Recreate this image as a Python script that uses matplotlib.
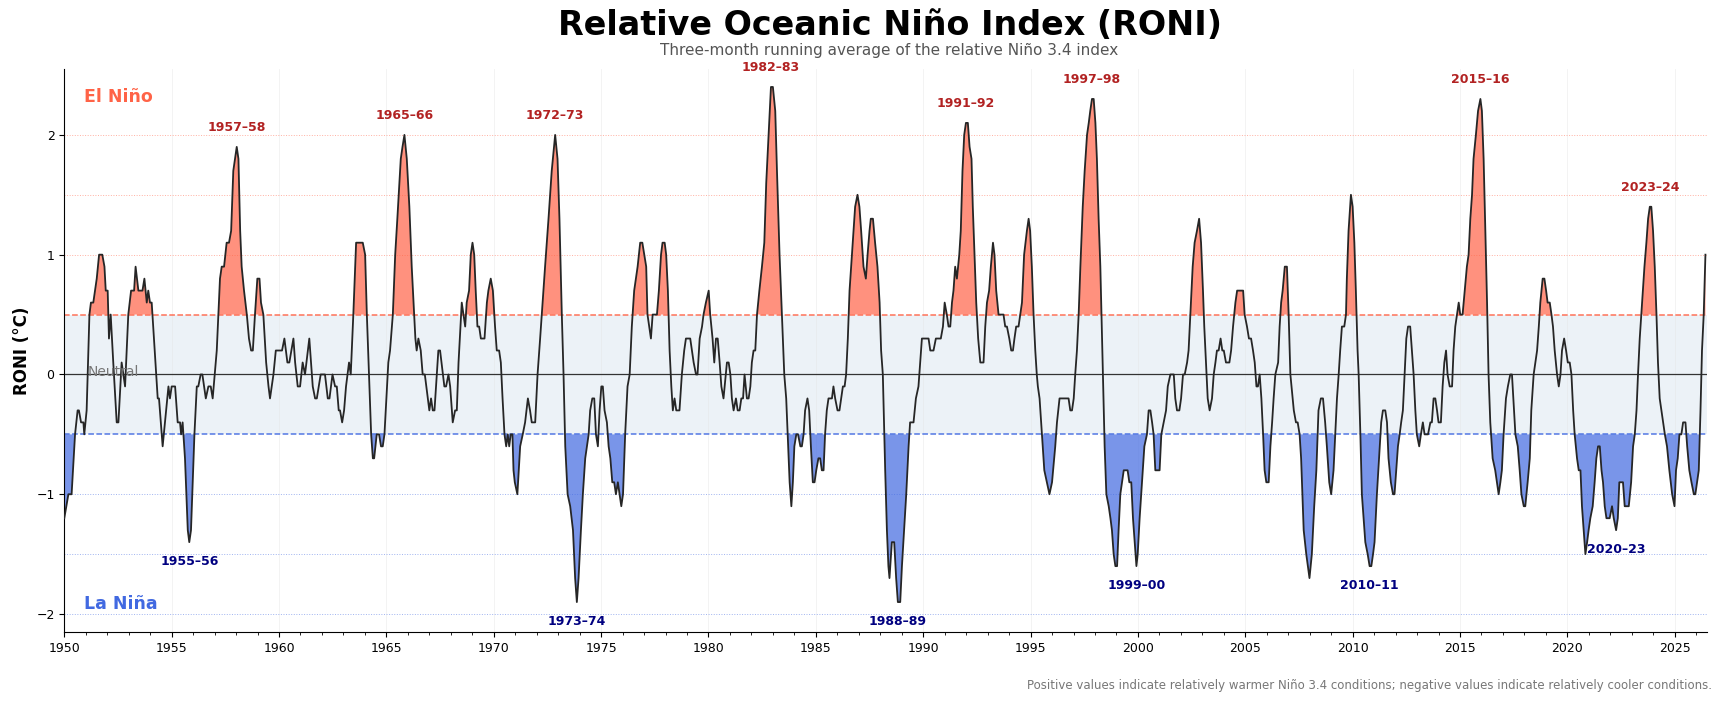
import numpy as np
import matplotlib.pyplot as plt
from matplotlib.ticker import MultipleLocator
import matplotlib.transforms as mtransforms

# RONI (three-month running mean)
years = [
    1950.00, 1950.19, 1950.34, 1950.50, 1950.62, 1950.68, 1950.78, 1950.89, 1950.93, 1951.04,
    1951.17, 1951.24, 1951.35, 1951.51, 1951.62, 1951.77, 1951.87, 1951.93, 1952.02, 1952.08,
    1952.16, 1952.28, 1952.44, 1952.52, 1952.67, 1952.83, 1952.98, 1953.11, 1953.25, 1953.32,
    1953.45, 1953.64, 1953.73, 1953.84, 1953.91, 1953.99, 1954.07, 1954.35, 1954.41, 1954.58,
    1954.85, 1954.92, 1955.00, 1955.16, 1955.28, 1955.39, 1955.44, 1955.51, 1955.62, 1955.75,
    1955.82, 1955.90, 1956.06, 1956.17, 1956.24, 1956.35, 1956.43, 1956.59, 1956.71, 1956.82,
    1956.91, 1957.10, 1957.25, 1957.33, 1957.44, 1957.56, 1957.67, 1957.77, 1957.87, 1957.95,
    1958.03, 1958.11, 1958.19, 1958.26, 1958.37, 1958.50, 1958.60, 1958.70, 1958.78, 1958.88,
    1958.99, 1959.09, 1959.16, 1959.27, 1959.40, 1959.51, 1959.58, 1959.74, 1959.85, 1960.14,
    1960.25, 1960.39, 1960.48, 1960.67, 1960.75, 1960.87, 1960.98, 1961.10, 1961.21, 1961.41,
    1961.57, 1961.68, 1961.76, 1961.94, 1962.14, 1962.27, 1962.35, 1962.49, 1962.61, 1962.69,
    1962.78, 1962.84, 1962.94, 1963.03, 1963.12, 1963.26, 1963.34, 1963.46, 1963.59, 1963.90,
    1964.01, 1964.09, 1964.19, 1964.29, 1964.37, 1964.43, 1964.55, 1964.66, 1964.75, 1964.83,
    1964.91, 1965.09, 1965.17, 1965.30, 1965.41, 1965.51, 1965.67, 1965.75, 1965.84, 1965.95,
    1966.07, 1966.18, 1966.29, 1966.35, 1966.41, 1966.49, 1966.60, 1966.69, 1966.79, 1966.93,
    1967.00, 1967.08, 1967.16, 1967.24, 1967.35, 1967.42, 1967.50, 1967.63, 1967.70, 1967.78,
    1967.89, 1967.97, 1968.09, 1968.20, 1968.28, 1968.36, 1968.51, 1968.59, 1968.67, 1968.74,
    1968.85, 1968.93, 1969.01, 1969.09, 1969.16, 1969.24, 1969.32, 1969.40, 1969.57, 1969.68,
    1969.75, 1969.86, 1969.96, 1970.06, 1970.14, 1970.25, 1970.33, 1970.41, 1970.50, 1970.58,
    1970.65, 1970.72, 1970.79, 1970.87, 1970.92, 1970.98, 1971.10, 1971.23, 1971.35, 1971.46,
    1971.59, 1971.69, 1971.77, 1971.93, 1972.04, 1972.16, 1972.39, 1972.55, 1972.70, 1972.86,
    1972.97, 1973.06, 1973.17, 1973.25, 1973.33, 1973.44, 1973.56, 1973.69, 1973.79, 1973.87,
    1973.95, 1974.06, 1974.15, 1974.26, 1974.34, 1974.42, 1974.49, 1974.59, 1974.68, 1974.76,
    1974.85, 1974.93, 1975.01, 1975.08, 1975.16, 1975.27, 1975.35, 1975.43, 1975.52, 1975.61,
    1975.69, 1975.78, 1975.86, 1975.94, 1976.02, 1976.12, 1976.23, 1976.33, 1976.43, 1976.54,
    1976.70, 1976.82, 1976.92, 1977.01, 1977.10, 1977.16, 1977.24, 1977.32, 1977.40, 1977.60,
    1977.69, 1977.79, 1977.86, 1977.96, 1978.03, 1978.11, 1978.19, 1978.27, 1978.34, 1978.42,
    1978.50, 1978.65, 1978.76, 1978.87, 1978.95, 1979.15, 1979.31, 1979.42, 1979.49, 1979.59,
    1979.70, 1979.77, 1979.88, 1980.01, 1980.08, 1980.19, 1980.27, 1980.35, 1980.43, 1980.52,
    1980.60, 1980.70, 1980.81, 1980.86, 1980.94, 1981.02, 1981.09, 1981.17, 1981.28, 1981.36,
    1981.45, 1981.53, 1981.61, 1981.68, 1981.79, 1981.87, 1981.95, 1982.02, 1982.10, 1982.18,
    1982.26, 1982.37, 1982.49, 1982.60, 1982.69, 1982.80, 1982.91, 1983.00, 1983.11, 1983.19,
    1983.31, 1983.42, 1983.53, 1983.62, 1983.69, 1983.78, 1983.86, 1983.93, 1984.00, 1984.09,
    1984.17, 1984.28, 1984.35, 1984.43, 1984.50, 1984.61, 1984.69, 1984.77, 1984.86, 1984.94,
    1985.02, 1985.12, 1985.20, 1985.28, 1985.36, 1985.43, 1985.51, 1985.59, 1985.75, 1985.82,
    1985.90, 1986.01, 1986.10, 1986.18, 1986.26, 1986.34, 1986.41, 1986.49, 1986.57, 1986.68,
    1986.75, 1986.83, 1986.94, 1987.03, 1987.11, 1987.22, 1987.33, 1987.41, 1987.50, 1987.56,
    1987.66, 1987.76, 1987.87, 1987.97, 1988.04, 1988.12, 1988.23, 1988.31, 1988.38, 1988.43,
    1988.54, 1988.65, 1988.74, 1988.82, 1988.93, 1989.01, 1989.11, 1989.21, 1989.32, 1989.39,
    1989.55, 1989.66, 1989.78, 1989.86, 1989.94, 1990.25, 1990.33, 1990.48, 1990.59, 1990.82,
    1990.92, 1991.00, 1991.10, 1991.18, 1991.26, 1991.34, 1991.41, 1991.49, 1991.57, 1991.68,
    1991.75, 1991.83, 1991.91, 1991.99, 1992.08, 1992.16, 1992.25, 1992.31, 1992.39, 1992.47,
    1992.56, 1992.66, 1992.81, 1992.89, 1992.97, 1993.07, 1993.15, 1993.25, 1993.32, 1993.40,
    1993.51, 1993.74, 1993.82, 1993.90, 1994.01, 1994.10, 1994.18, 1994.25, 1994.33, 1994.44,
    1994.52, 1994.60, 1994.70, 1994.83, 1994.91, 1994.98, 1995.06, 1995.14, 1995.22, 1995.29,
    1995.34, 1995.42, 1995.53, 1995.64, 1995.76, 1995.88, 1996.00, 1996.15, 1996.23, 1996.35,
    1996.54, 1996.77, 1996.85, 1996.93, 1997.01, 1997.08, 1997.16, 1997.24, 1997.32, 1997.43,
    1997.52, 1997.63, 1997.71, 1997.78, 1997.86, 1997.94, 1998.02, 1998.09, 1998.17, 1998.25,
    1998.33, 1998.37, 1998.45, 1998.53, 1998.64, 1998.72, 1998.79, 1998.87, 1998.95, 1999.03,
    1999.10, 1999.18, 1999.26, 1999.34, 1999.52, 1999.60, 1999.69, 1999.77, 1999.85, 1999.93,
    1999.99, 2000.08, 2000.19, 2000.30, 2000.42, 2000.50, 2000.58, 2000.66, 2000.73, 2000.81,
    2001.01, 2001.09, 2001.20, 2001.31, 2001.39, 2001.51, 2001.67, 2001.74, 2001.82, 2001.93,
    2002.01, 2002.10, 2002.18, 2002.29, 2002.36, 2002.44, 2002.55, 2002.64, 2002.75, 2002.85,
    2002.94, 2003.03, 2003.09, 2003.17, 2003.25, 2003.34, 2003.45, 2003.53, 2003.61, 2003.68,
    2003.76, 2003.85, 2003.93, 2004.00, 2004.10, 2004.26, 2004.34, 2004.43, 2004.54, 2004.62,
    2004.90, 2004.97, 2005.08, 2005.17, 2005.27, 2005.36, 2005.44, 2005.52, 2005.59, 2005.67,
    2005.75, 2005.83, 2005.90, 2005.98, 2006.09, 2006.17, 2006.25, 2006.32, 2006.40, 2006.53,
    2006.60, 2006.67, 2006.74, 2006.84, 2006.94, 2007.02, 2007.10, 2007.26, 2007.36, 2007.44,
    2007.53, 2007.60, 2007.72, 2007.84, 2007.99, 2008.10, 2008.21, 2008.31, 2008.41, 2008.52,
    2008.62, 2008.72, 2008.80, 2008.91, 2009.00, 2009.11, 2009.19, 2009.27, 2009.35, 2009.42,
    2009.50, 2009.61, 2009.69, 2009.73, 2009.81, 2009.92, 2010.00, 2010.08, 2010.15, 2010.23,
    2010.28, 2010.36, 2010.43, 2010.51, 2010.59, 2010.70, 2010.79, 2010.87, 2010.95, 2011.02,
    2011.13, 2011.26, 2011.33, 2011.41, 2011.52, 2011.60, 2011.67, 2011.78, 2011.88, 2011.95,
    2012.03, 2012.11, 2012.19, 2012.26, 2012.34, 2012.42, 2012.50, 2012.58, 2012.68, 2012.76,
    2012.84, 2012.92, 2012.99, 2013.10, 2013.18, 2013.27, 2013.35, 2013.51, 2013.62, 2013.69,
    2013.77, 2013.85, 2013.93, 2014.00, 2014.11, 2014.19, 2014.27, 2014.35, 2014.42, 2014.52,
    2014.63, 2014.70, 2014.78, 2014.86, 2014.94, 2015.01, 2015.12, 2015.22, 2015.32, 2015.40,
    2015.48, 2015.56, 2015.63, 2015.74, 2015.84, 2015.95, 2016.02, 2016.10, 2016.18, 2016.26,
    2016.33, 2016.41, 2016.52, 2016.64, 2016.72, 2016.80, 2016.88, 2016.95, 2017.03, 2017.14,
    2017.23, 2017.34, 2017.42, 2017.58, 2017.69, 2017.78, 2017.86, 2017.97, 2018.04, 2018.15,
    2018.25, 2018.32, 2018.43, 2018.51, 2018.59, 2018.67, 2018.74, 2018.85, 2018.93, 2019.01,
    2019.08, 2019.18, 2019.26, 2019.33, 2019.41, 2019.52, 2019.60, 2019.68, 2019.75, 2019.85,
    2019.94, 2020.02, 2020.11, 2020.19, 2020.27, 2020.34, 2020.45, 2020.53, 2020.61, 2020.68,
    2020.76, 2020.84, 2020.92, 2020.99, 2021.07, 2021.18, 2021.27, 2021.35, 2021.43, 2021.51,
    2021.59, 2021.66, 2021.74, 2021.82, 2021.97, 2022.08, 2022.16, 2022.27, 2022.35, 2022.42,
    2022.59, 2022.67, 2022.86, 2022.97, 2023.06, 2023.14, 2023.22, 2023.29, 2023.37, 2023.48,
    2023.59, 2023.68, 2023.76, 2023.84, 2023.91, 2023.99, 2024.07, 2024.15, 2024.22, 2024.30,
    2024.38, 2024.46, 2024.54, 2024.64, 2024.75, 2024.88, 2024.99, 2025.06, 2025.14, 2025.22,
    2025.31, 2025.39, 2025.50, 2025.58, 2025.68, 2025.78, 2025.89, 2025.96, 2026.04, 2026.12,
    2026.20, 2026.27, 2026.35, 2026.43,
]

roni = [
    -1.2, -1.0, -1.0, -0.5, -0.3, -0.3, -0.4, -0.4, -0.5, -0.3,
    0.5, 0.6, 0.6, 0.8, 1.0, 1.0, 0.9, 0.7, 0.7, 0.3,
    0.5, 0.1, -0.4, -0.4, 0.1, -0.1, 0.5, 0.7, 0.7, 0.9,
    0.7, 0.7, 0.8, 0.6, 0.7, 0.6, 0.6, -0.2, -0.2, -0.6,
    -0.1, -0.2, -0.1, -0.1, -0.4, -0.4, -0.5, -0.4, -0.7, -1.3,
    -1.4, -1.3, -0.5, -0.1, -0.1, 0.0, 0.0, -0.2, -0.1, -0.1,
    -0.2, 0.2, 0.8, 0.9, 0.9, 1.1, 1.1, 1.2, 1.7, 1.8,
    1.9, 1.8, 1.2, 0.9, 0.7, 0.5, 0.3, 0.2, 0.2, 0.5,
    0.8, 0.8, 0.6, 0.5, 0.1, -0.1, -0.2, 0.0, 0.2, 0.2,
    0.3, 0.1, 0.1, 0.3, 0.1, -0.1, -0.1, 0.1, 0.0, 0.3,
    -0.1, -0.2, -0.2, 0.0, 0.0, -0.2, -0.2, 0.0, -0.1, -0.1,
    -0.3, -0.3, -0.4, -0.3, -0.1, 0.1, 0.0, 0.5, 1.1, 1.1,
    1.0, 0.5, 0.0, -0.5, -0.7, -0.7, -0.5, -0.5, -0.6, -0.6,
    -0.5, 0.1, 0.2, 0.5, 1.0, 1.3, 1.8, 1.9, 2.0, 1.8,
    1.4, 0.9, 0.5, 0.3, 0.2, 0.3, 0.2, 0.0, 0.0, -0.2,
    -0.3, -0.2, -0.3, -0.3, 0.0, 0.2, 0.2, 0.0, -0.1, -0.1,
    0.0, -0.1, -0.4, -0.3, -0.3, 0.1, 0.6, 0.5, 0.4, 0.6,
    0.7, 1.0, 1.1, 1.0, 0.7, 0.4, 0.4, 0.3, 0.3, 0.6,
    0.7, 0.8, 0.7, 0.4, 0.2, 0.2, 0.1, -0.2, -0.5, -0.6,
    -0.5, -0.6, -0.5, -0.5, -0.8, -0.9, -1.0, -0.6, -0.5, -0.4,
    -0.2, -0.3, -0.4, -0.4, 0.0, 0.3, 0.9, 1.3, 1.7, 2.0,
    1.8, 1.3, 0.5, 0.0, -0.6, -1.0, -1.1, -1.3, -1.7, -1.9,
    -1.7, -1.3, -1.0, -0.7, -0.6, -0.5, -0.3, -0.2, -0.2, -0.5,
    -0.6, -0.3, -0.1, -0.1, -0.3, -0.4, -0.6, -0.7, -0.9, -0.9,
    -1.0, -0.9, -1.0, -1.1, -1.0, -0.5, -0.1, 0.0, 0.4, 0.7,
    0.9, 1.1, 1.1, 1.0, 0.9, 0.5, 0.4, 0.3, 0.5, 0.5,
    0.7, 1.0, 1.1, 1.1, 1.0, 0.7, 0.2, -0.1, -0.3, -0.2,
    -0.3, -0.3, 0.0, 0.2, 0.3, 0.3, 0.1, 0.0, 0.0, 0.3,
    0.4, 0.5, 0.6, 0.7, 0.5, 0.3, 0.1, 0.3, 0.3, 0.1,
    -0.1, -0.2, 0.0, 0.1, 0.1, 0.0, -0.2, -0.3, -0.2, -0.3,
    -0.3, -0.2, -0.2, 0.0, -0.2, -0.2, -0.1, 0.1, 0.2, 0.2,
    0.5, 0.7, 0.9, 1.1, 1.6, 2.0, 2.4, 2.4, 2.2, 1.7,
    1.0, 0.5, 0.0, -0.2, -0.5, -0.9, -1.1, -0.9, -0.6, -0.5,
    -0.5, -0.6, -0.6, -0.5, -0.3, -0.2, -0.3, -0.6, -0.9, -0.9,
    -0.8, -0.7, -0.7, -0.8, -0.8, -0.5, -0.3, -0.2, -0.2, -0.1,
    -0.2, -0.3, -0.3, -0.2, -0.1, -0.1, 0.0, 0.3, 0.7, 1.0,
    1.2, 1.4, 1.5, 1.4, 1.2, 0.9, 0.8, 1.0, 1.2, 1.3,
    1.3, 1.1, 0.9, 0.6, 0.2, 0.0, -0.8, -1.3, -1.6, -1.7,
    -1.4, -1.4, -1.7, -1.9, -1.9, -1.6, -1.3, -1.0, -0.6, -0.4,
    -0.4, -0.2, -0.1, 0.1, 0.3, 0.3, 0.2, 0.2, 0.3, 0.3,
    0.4, 0.6, 0.5, 0.4, 0.4, 0.6, 0.7, 0.9, 0.8, 1.0,
    1.2, 1.7, 2.0, 2.1, 2.1, 1.9, 1.8, 1.4, 1.0, 0.6,
    0.3, 0.1, 0.1, 0.4, 0.6, 0.7, 0.9, 1.1, 1.0, 0.7,
    0.5, 0.5, 0.4, 0.4, 0.3, 0.2, 0.2, 0.3, 0.4, 0.4,
    0.5, 0.6, 1.0, 1.2, 1.3, 1.2, 0.9, 0.5, 0.2, 0.0,
    -0.1, -0.2, -0.5, -0.8, -0.9, -1.0, -0.9, -0.6, -0.4, -0.2,
    -0.2, -0.2, -0.3, -0.3, -0.2, 0.0, 0.2, 0.5, 0.9, 1.4,
    1.7, 2.0, 2.1, 2.2, 2.3, 2.3, 2.1, 1.8, 1.3, 0.9,
    0.3, 0.0, -0.6, -1.0, -1.1, -1.2, -1.3, -1.5, -1.6, -1.6,
    -1.3, -1.0, -0.9, -0.8, -0.8, -0.9, -0.9, -1.2, -1.4, -1.6,
    -1.5, -1.2, -0.9, -0.6, -0.5, -0.3, -0.3, -0.4, -0.5, -0.8,
    -0.8, -0.5, -0.4, -0.3, -0.1, 0.0, 0.0, -0.2, -0.3, -0.3,
    -0.2, 0.0, 0.0, 0.1, 0.2, 0.5, 0.9, 1.1, 1.2, 1.3,
    1.1, 0.7, 0.4, 0.1, -0.2, -0.3, -0.2, 0.0, 0.1, 0.2,
    0.2, 0.3, 0.2, 0.2, 0.1, 0.1, 0.2, 0.4, 0.6, 0.7,
    0.7, 0.5, 0.4, 0.3, 0.3, 0.2, 0.1, -0.1, -0.1, 0.0,
    -0.2, -0.5, -0.8, -0.9, -0.9, -0.6, -0.4, -0.2, 0.0, 0.1,
    0.4, 0.6, 0.7, 0.9, 0.9, 0.5, 0.0, -0.3, -0.4, -0.4,
    -0.5, -0.7, -1.3, -1.5, -1.7, -1.5, -1.1, -0.8, -0.3, -0.2,
    -0.2, -0.4, -0.6, -0.9, -1.0, -0.8, -0.5, -0.2, 0.0, 0.2,
    0.4, 0.4, 0.5, 0.8, 1.2, 1.5, 1.4, 1.1, 0.7, 0.2,
    0.0, -0.5, -1.0, -1.2, -1.4, -1.5, -1.6, -1.6, -1.5, -1.4,
    -1.0, -0.6, -0.4, -0.3, -0.3, -0.4, -0.7, -0.9, -1.0, -1.0,
    -0.8, -0.6, -0.5, -0.4, -0.3, 0.0, 0.3, 0.4, 0.4, 0.2,
    0.0, -0.3, -0.5, -0.6, -0.5, -0.4, -0.5, -0.5, -0.4, -0.4,
    -0.2, -0.2, -0.3, -0.4, -0.4, -0.1, 0.1, 0.2, 0.0, -0.1,
    -0.1, 0.2, 0.4, 0.5, 0.6, 0.5, 0.5, 0.7, 0.9, 1.0,
    1.3, 1.5, 1.8, 2.0, 2.2, 2.3, 2.2, 1.8, 1.2, 0.6,
    0.0, -0.4, -0.7, -0.8, -0.9, -1.0, -0.9, -0.8, -0.5, -0.2,
    -0.1, 0.0, 0.0, -0.5, -0.6, -0.8, -1.0, -1.1, -1.1, -0.9,
    -0.7, -0.3, 0.0, 0.1, 0.2, 0.4, 0.6, 0.8, 0.8, 0.7,
    0.6, 0.6, 0.5, 0.4, 0.2, 0.0, -0.1, 0.0, 0.2, 0.3,
    0.2, 0.1, 0.1, 0.0, -0.3, -0.5, -0.7, -0.8, -0.8, -1.1,
    -1.3, -1.5, -1.4, -1.3, -1.2, -1.1, -0.9, -0.7, -0.6, -0.6,
    -0.8, -0.9, -1.1, -1.2, -1.2, -1.1, -1.2, -1.3, -1.2, -0.9,
    -0.9, -1.1, -1.1, -0.9, -0.6, -0.5, -0.3, 0.0, 0.3, 0.6,
    0.9, 1.1, 1.3, 1.4, 1.4, 1.2, 0.9, 0.5, 0.1, -0.2,
    -0.3, -0.4, -0.5, -0.6, -0.8, -1.0, -1.1, -0.8, -0.7, -0.5,
    -0.5, -0.4, -0.4, -0.6, -0.8, -0.9, -1.0, -1.0, -0.9, -0.8,
    -0.3, 0.2, 0.5, 1.0,
]

# named episodes and the span in which each labelled peak / trough lies
el_nino_labels = ['1957–58', '1965–66', '1972–73', '1982–83', '1991–92', '1997–98', '2015–16', '2023–24']
el_nino_spans = [(1957, 1959), (1965, 1967), (1972, 1973.5), (1982, 1984),
                 (1991, 1993), (1997, 1999), (2015, 2017), (2023, 2025)]
la_nina_labels = ['1955–56', '1973–74', '1988–89', '1999–00', '2010–11', '2020–23']
la_nina_spans = [(1955, 1957), (1973.3, 1975), (1988, 1990), (1999.5, 2000.5),
                 (2010, 2012), (2021.5, 2023)]

t = np.array(years)
v = np.array(roni)
assert len(t) == len(v)

fig = plt.figure(figsize=(17.24, 7.02), dpi=100)
ax = fig.add_axes([0.0373, 0.0997, 0.9528, 0.802])

# neutral band and thresholds
ax.axhspan(-0.5, 0.5, color='steelblue', alpha=0.1, lw=0, zorder=0)
ax.axhline(0.5, color='tomato', ls='--', lw=1.1, alpha=0.9, zorder=1)
ax.axhline(-0.5, color='royalblue', ls='--', lw=1.1, alpha=0.9, zorder=1)
for lvl in [1, 1.5, 2]:
    ax.axhline(lvl, color='tomato', ls=':', lw=0.7, alpha=0.5, zorder=1)
    ax.axhline(-lvl, color='royalblue', ls=':', lw=0.7, alpha=0.5, zorder=1)
ax.axhline(0, color='#333333', lw=0.9, zorder=2)

ax.fill_between(t, v, 0.5, where=v >= 0.5, interpolate=True,
                color='tomato', alpha=0.7, lw=0, zorder=2)
ax.fill_between(t, v, -0.5, where=v <= -0.5, interpolate=True,
                color='royalblue', alpha=0.7, lw=0, zorder=2)
ax.plot(t, v, color='#262626', lw=1.3, zorder=3)

for lab, (a, b) in zip(el_nino_labels, el_nino_spans):
    m = (t >= a) & (t <= b)
    i = np.where(m)[0][np.argmax(v[m])]
    ax.annotate(lab, xy=(t[i], v[i]), xytext=(0, 9), textcoords='offset points',
                ha='center', va='bottom', fontsize=9, fontweight='bold', color='firebrick')

for lab, (a, b) in zip(la_nina_labels, la_nina_spans):
    m = (t >= a) & (t <= b)
    i = np.where(m)[0][np.argmin(v[m])]
    ax.annotate(lab, xy=(t[i], v[i]), xytext=(0, -9), textcoords='offset points',
                ha='center', va='top', fontsize=9, fontweight='bold', color='navy')

ax.text(0.012, 0.95, 'El Niño', transform=ax.transAxes, fontsize=12.5,
        fontweight='bold', color='tomato', va='center', ha='left')
ax.text(0.012, 0.05, 'La Niña', transform=ax.transAxes, fontsize=12.5,
        fontweight='bold', color='royalblue', va='center', ha='left')
trans = mtransforms.blended_transform_factory(ax.transAxes, ax.transData)
ax.text(0.014, 0.02, 'Neutral', transform=trans, fontsize=10, color='#777777',
        va='center', ha='left')

ax.set_xlim(1950, 2026.5)
ax.set_ylim(-2.15, 2.55)
ax.xaxis.set_major_locator(MultipleLocator(5))
ax.xaxis.set_minor_locator(MultipleLocator(1))
ax.set_yticks([-2, -1, 0, 1, 2])
ax.tick_params(labelsize=9)
ax.grid(axis='x', which='major', color='#e4e4e4', lw=0.6, alpha=0.5)
ax.set_axisbelow(True)
for s in ['top', 'right']:
    ax.spines[s].set_visible(False)
ax.set_ylabel('RONI (°C)', fontsize=12, fontweight='bold')

fig.text(0.516, 0.963, 'Relative Oceanic Niño Index (RONI)', ha='center', va='center',
         fontsize=24, fontweight='bold')
fig.text(0.516, 0.928, 'Three-month running average of the relative Niño 3.4 index',
         ha='center', va='center', fontsize=11, color='#555555')
fig.text(0.993, 0.024, 'Positive values indicate relatively warmer Niño 3.4 conditions; '
         'negative values indicate relatively cooler conditions.',
         ha='right', va='center', fontsize=8.5, color='#777777')

fig.savefig('out.png', dpi=100)
